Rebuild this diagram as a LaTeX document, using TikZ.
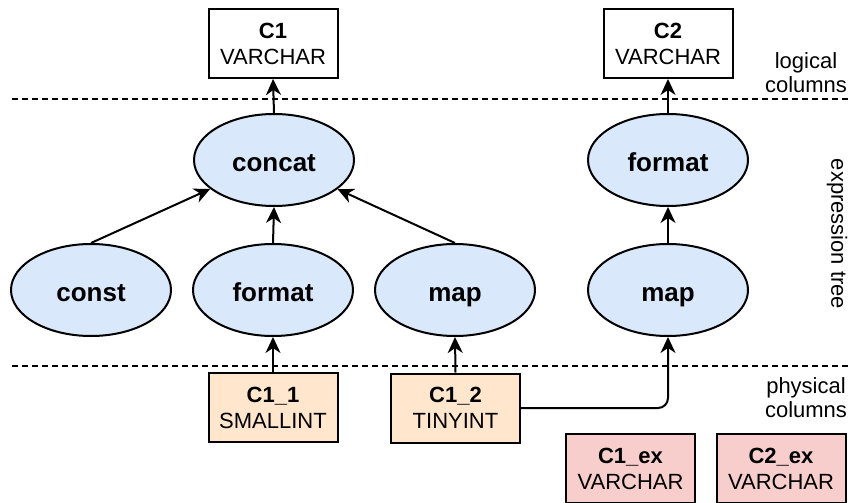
\documentclass[tikz,border=0pt]{standalone}
\usepackage{fontspec}
\setmainfont{Liberation Sans}
\usetikzlibrary{shapes.geometric,arrows.meta}
\definecolor{fnblue}{HTML}{DAE8FC}
\definecolor{physorange}{HTML}{FFE6CC}
\definecolor{exred}{HTML}{F8CECC}
\tikzset{
  fnode/.style={ellipse,draw,fill=fnblue,minimum width=80pt,minimum height=46pt,
    inner sep=0pt,text height=11pt,text depth=0pt,
    font=\fontsize{13}{15}\selectfont\bfseries},
  colbox/.style={rectangle,draw,minimum width=64.5pt,minimum height=34.5pt,
    inner sep=0pt,align=center,font=\fontsize{11}{13}\selectfont},
  layer/.style={align=center,font=\fontsize{11}{12}\selectfont},
  sepline/.style={dash pattern=on 3pt off 2pt,line width=0.7pt}
}
\begin{document}
\begin{tikzpicture}[x=0.5pt,y=-0.5pt,line width=1pt,
  >={Stealth[length=8pt,width=7.5pt,inset=2.5pt]}]
  \useasboundingbox (0,0) rectangle (849,502);
  %%% layer separators
  \path (12,99) coordinate (s1l);
  \path (849,99) coordinate (s1r);
  \path (12,366) coordinate (s2l);
  \path (849,366) coordinate (s2r);
  \draw[sepline] (s1l) -- (s1r);
  \draw[sepline] (s2l) -- (s2r);
  %%% logical columns
  \path (273,43.5) node[colbox] (c1) {\textbf{C1}\\VARCHAR};
  \path (668,43.5) node[colbox] (c2) {\textbf{C2}\\VARCHAR};
  %%% expression tree
  \path (274,160) node[fnode] (concat) {concat};
  \path (668,160) node[fnode] (format2) {format};
  \path (91,290) node[fnode] (const) {const};
  \path (273,290) node[fnode] (format1) {format};
  \path (455,290) node[fnode] (map1) {map};
  \path (668,290) node[fnode] (map2) {map};
  %%% physical columns
  \path (273,407.5) node[colbox,fill=physorange] (c11) {\textbf{C1\_1}\\SMALLINT};
  \path (455.5,408) node[colbox,fill=physorange] (c12) {\textbf{C1\_2}\\TINYINT};
  \path (630.5,468.5) node[colbox,fill=exred] (c1ex) {\textbf{C1\_ex}\\VARCHAR};
  \path (781,468.5) node[colbox,fill=exred] (c2ex) {\textbf{C2\_ex}\\VARCHAR};
  %%% Edges:
  \draw[->] (concat.north) -- (c1.south);
  \draw[->] (format2.north) -- (c2.south);
  \draw[->] (const.north) -- (concat);
  \draw[->] (format1.north) -- (concat.south);
  \draw[->] (map1.north) -- (concat);
  \draw[->] (map2.north) -- (format2.south);
  \draw[->] (c11.north) -- (format1.south);
  \draw[->] (c12.north) -- (map1.south);
  \draw[->,rounded corners=5pt] (c12.east) -| (map2.south);
  %%% text
  \path (806,73) node[layer] (loglbl) {logical\\columns};
  \path (837,234) node[layer,rotate=-90] (exprlbl) {expression tree};
  \path (806,397.5) node[layer] (physlbl) {physical\\columns};
\end{tikzpicture}
\end{document}
